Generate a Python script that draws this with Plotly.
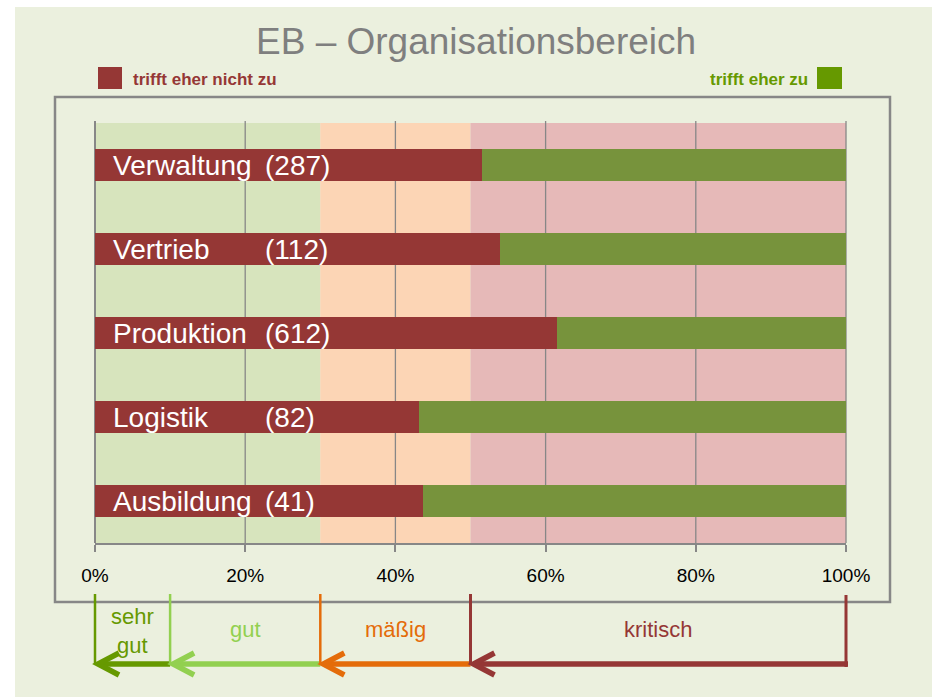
import plotly.graph_objects as go

# ---------------- data ----------------
categories = ["Verwaltung", "Vertrieb", "Produktion", "Logistik", "Ausbildung"]
counts = ["(287)", "(112)", "(612)", "(82)", "(41)"]
share_not = [0.515, 0.539, 0.615, 0.431, 0.437]          # trifft eher nicht zu
share_yes = [1 - v for v in share_not]                     # trifft eher zu
band_edges = [0.0, 0.3, 0.5, 1.0]
band_colors = ["#d7e4bd", "#fcd5b5", "#e6b9b8"]
rating_edges = [0.0, 0.1, 0.3, 0.5, 1.0]
rating_labels = ["sehr<br>gut", "gut", "mäßig", "kritisch"]
rating_colors = ["#669900", "#92d050", "#e46c0a", "#953735"]
tick_vals = [0, 0.2, 0.4, 0.6, 0.8, 1.0]
tick_text = ["0%", "20%", "40%", "60%", "80%", "100%"]
title_text = "EB – Organisationsbereich"
legend_not = "trifft eher nicht zu"
legend_yes = "trifft eher zu"

RED = "#953735"
GREEN = "#77933c"
LEG_GREEN = "#669900"
BG = "#ebf0de"
GRAY = "#878787"
FONT = "Liberation Sans, Arial, sans-serif"

W, H = 932, 697          # page size
L, R, T, B = 95, 846, 123, 543   # plot area in page pixels


def px(x):
    return (x - L) / (R - L)


def py(y):
    return (B - y) / (B - T)


fig = go.Figure()
fig.add_trace(go.Bar(y=categories, x=share_not, orientation="h", marker_color=RED,
                     marker_line_width=0, width=0.39, name=legend_not, showlegend=False))
fig.add_trace(go.Bar(y=categories, x=share_yes, orientation="h", marker_color=GREEN,
                     marker_line_width=0, width=0.39, name=legend_yes, showlegend=False))

shapes = []
# white page margins (top / left)
shapes.append(dict(type="rect", xref="paper", yref="paper", x0=px(-5), x1=px(W + 5),
                   y0=py(7), y1=py(-5), fillcolor="white", line_width=0, layer="below"))
shapes.append(dict(type="rect", xref="paper", yref="paper", x0=px(-5), x1=px(15),
                   y0=py(H + 5), y1=py(-5), fillcolor="white", line_width=0, layer="below"))
# bands
for i, c in enumerate(band_colors):
    shapes.append(dict(type="rect", xref="x", yref="paper", x0=band_edges[i], x1=band_edges[i + 1],
                       y0=0, y1=1, fillcolor=c, line_width=0, layer="below"))
# gridlines
for v in tick_vals:
    shapes.append(dict(type="line", xref="paper", yref="paper", x0=v, x1=v, y0=0, y1=py(121),
                       line=dict(color=GRAY, width=2 if v == 0 else 1.3), layer="below"))
# outer frame
shapes.append(dict(type="rect", xref="paper", yref="paper", x0=px(55), x1=px(890),
                   y0=py(602), y1=py(97), line=dict(color=GRAY, width=2.5), fillcolor="rgba(0,0,0,0)"))

# rating scale arrows
y_arrow = py(664)
for i, col in enumerate(rating_colors):
    x0, x1 = rating_edges[i], rating_edges[i + 1]
    shapes.append(dict(type="line", xref="paper", yref="paper", x0=x0, x1=x0, y0=py(594), y1=py(664),
                       line=dict(color=col, width=3 if col == RED else 2.5)))
    shapes.append(dict(type="line", xref="paper", yref="paper", x0=x0 + px(L + 4), x1=x1 + (px(L + 2) if i == 3 else 0),
                       y0=y_arrow, y1=y_arrow, line=dict(color=col, width=5.5)))
    shapes.append(dict(type="path", xref="paper", yref="paper", xsizemode="pixel", ysizemode="pixel",
                       xanchor=x0, yanchor=y_arrow, path="M 24,11 L 3,0 L 24,-11",
                       line=dict(color=col, width=5.5)))
shapes.append(dict(type="line", xref="paper", yref="paper", x0=rating_edges[-1], x1=rating_edges[-1],
                   y0=py(595), y1=py(667), line=dict(color=RED, width=3)))

# legend squares
shapes.append(dict(type="rect", xref="paper", yref="paper", x0=px(98), x1=px(122), y0=py(89), y1=py(67),
                   fillcolor=RED, line_width=0))
shapes.append(dict(type="rect", xref="paper", yref="paper", x0=px(817), x1=px(842), y0=py(89), y1=py(67),
                   fillcolor=LEG_GREEN, line_width=0))

annotations = []
annotations.append(dict(text=title_text, xref="paper", yref="paper", x=px(476), y=py(41),
                        showarrow=False, font=dict(family=FONT, size=37, color="#7f7f7f"),
                        xanchor="center", yanchor="middle"))
annotations.append(dict(text=legend_not, xref="paper", yref="paper", x=px(131), y=py(80),
                        showarrow=False, font=dict(family=FONT, size=17, color=RED, weight="bold"),
                        xanchor="left", yanchor="middle"))
annotations.append(dict(text=legend_yes, xref="paper", yref="paper", x=px(810), y=py(80),
                        showarrow=False, font=dict(family=FONT, size=17, color=LEG_GREEN, weight="bold"),
                        xanchor="right", yanchor="middle"))
for cat, cnt in zip(categories, counts):
    annotations.append(dict(text=cat, xref="x", yref="y", x=px(111), y=cat, showarrow=False,
                            font=dict(family=FONT, size=28, color="white"), xanchor="left", yanchor="middle"))
    annotations.append(dict(text=cnt, xref="x", yref="y", x=px(263), y=cat, showarrow=False,
                            font=dict(family=FONT, size=28, color="white"), xanchor="left", yanchor="middle"))
for i, (lab, col) in enumerate(zip(rating_labels, rating_colors)):
    xm = (rating_edges[i] + rating_edges[i + 1]) / 2
    annotations.append(dict(text=lab, xref="paper", yref="paper", x=xm, y=py(631 if i == 0 else 629),
                            showarrow=False, font=dict(family=FONT, size=22, color=col),
                            xanchor="center", yanchor="middle"))

fig.update_layout(
    width=W, height=H,
    margin=dict(l=L, r=W - R, t=T, b=H - B, pad=0),
    paper_bgcolor=BG, plot_bgcolor=BG,
    barmode="stack", bargap=0,
    showlegend=False,
    shapes=shapes, annotations=annotations,
    xaxis=dict(range=[0, 1], domain=[0, 1], tickvals=tick_vals, ticktext=tick_text,
               showgrid=False, zeroline=False, showline=True, linecolor=GRAY, linewidth=2,
               ticks="outside", ticklen=7, tickcolor=GRAY, tickwidth=2, ticklabelstandoff=7,
               tickfont=dict(family=FONT, size=19, color="black"), fixedrange=True),
    yaxis=dict(categoryorder="array", categoryarray=categories[::-1], range=[-0.5, 4.5],
               visible=False, showgrid=False, zeroline=False, fixedrange=True),
)

fig.write_html("out.html", config={"displayModeBar": False},
               post_script="document.body.style.margin='0';document.body.style.overflow='hidden';")
